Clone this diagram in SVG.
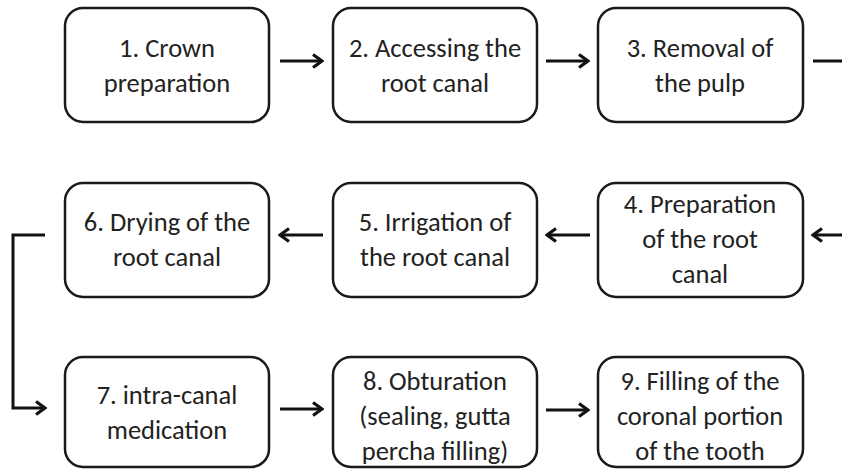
<svg xmlns="http://www.w3.org/2000/svg" width="842" height="470" viewBox="0 0 842 470">
<style>
.box{fill:#fff;stroke:#1a1a1a;stroke-width:2.5}
.t{font-family:Carlito,Lato,"Liberation Sans",sans-serif;font-size:26.5px;fill:#222;text-anchor:middle}
.c{fill:none;stroke:#111;stroke-width:3}
</style>
<defs>
<marker id="ah" viewBox="0 0 13 16" refX="11" refY="8" markerWidth="13" markerHeight="16" markerUnits="userSpaceOnUse" orient="auto">
<polyline points="2,1.5 11,8 2,14.5" fill="none" stroke="#111" stroke-width="3.2"/>
</marker>
</defs>
<rect width="842" height="470" fill="#fff"/>
<g id="n1"><rect class="box" x="65" y="8" width="204" height="114" rx="18"/><text class="t" x="167" y="57">1. Crown</text><text class="t" x="167" y="92">preparation</text></g>
<g id="n2"><rect class="box" x="333" y="8" width="204" height="114" rx="18"/><text class="t" x="435" y="57">2. Accessing the</text><text class="t" x="435" y="92">root canal</text></g>
<g id="n3"><rect class="box" x="598" y="8" width="205" height="114" rx="18"/><text class="t" x="700" y="57">3. Removal of</text><text class="t" x="700" y="92">the pulp</text></g>
<g id="n4"><rect class="box" x="598" y="183" width="205" height="114" rx="18"/><text class="t" x="700" y="213">4. Preparation</text><text class="t" x="700" y="248">of the root</text><text class="t" x="700" y="283">canal</text></g>
<g id="n5"><rect class="box" x="333" y="183" width="204" height="114" rx="18"/><text class="t" x="435" y="231">5. Irrigation of</text><text class="t" x="435" y="266">the root canal</text></g>
<g id="n6"><rect class="box" x="65" y="183" width="204" height="114" rx="18"/><text class="t" x="167" y="231">6. Drying of the</text><text class="t" x="167" y="266">root canal</text></g>
<g id="n7"><rect class="box" x="65" y="357" width="204" height="110" rx="18"/><text class="t" x="167" y="404">7. intra-canal</text><text class="t" x="167" y="439">medication</text></g>
<g id="n8"><rect class="box" x="333" y="357" width="204" height="110" rx="18"/><text class="t" x="435" y="390">8. Obturation</text><text class="t" x="435" y="425">(sealing, gutta</text><text class="t" x="435" y="460">percha filling)</text></g>
<g id="n9"><rect class="box" x="598" y="357" width="205" height="110" rx="18"/><text class="t" x="700" y="390">9. Filling of the</text><text class="t" x="700" y="425">coronal portion</text><text class="t" x="700" y="460">of the tooth</text></g>
<g id="connectors">
<line class="c" x1="280" y1="61" x2="322" y2="61" marker-end="url(#ah)"/>
<line class="c" x1="546" y1="61" x2="588" y2="61" marker-end="url(#ah)"/>
<line class="c" x1="813" y1="61" x2="842" y2="61"/>
<line class="c" x1="842" y1="235" x2="813" y2="235" marker-end="url(#ah)"/>
<line class="c" x1="590" y1="235" x2="547" y2="235" marker-end="url(#ah)"/>
<line class="c" x1="323" y1="235" x2="280" y2="235" marker-end="url(#ah)"/>
<polyline class="c" points="45,235 13,235 13,408 45,408" marker-end="url(#ah)"/>
<line class="c" x1="280" y1="409" x2="322" y2="409" marker-end="url(#ah)"/>
<line class="c" x1="546" y1="410" x2="588" y2="410" marker-end="url(#ah)"/>
</g>
</svg>
